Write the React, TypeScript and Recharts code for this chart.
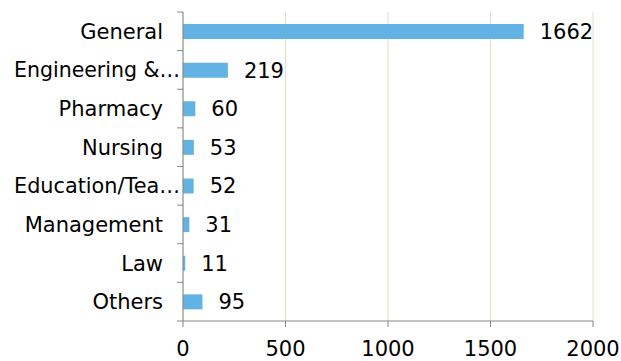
import React from 'react';
import { BarChart, Bar, XAxis, YAxis, CartesianGrid, LabelList } from 'recharts';

const categories = [
  'General',
  'Engineering & Technology',
  'Pharmacy',
  'Nursing',
  'Education/Teaching',
  'Management',
  'Law',
  'Others',
];
const counts = [1662, 219, 60, 53, 52, 31, 11, 95];
const xTicks = [0, 500, 1000, 1500, 2000];

const chartData = categories.map((name, i) => ({ name, value: counts[i] }));

const WIDTH = 621;
const HEIGHT = 361;
const MARGIN = { top: 12, right: 28, bottom: 0, left: 0 };
const X_AXIS_HEIGHT = 40;
const plotHeight = HEIGHT - MARGIN.top - MARGIN.bottom - X_AXIS_HEIGHT;
const band = plotHeight / categories.length;

const AXIS_COLOR = '#868686';
const FONT = '"DejaVu Sans", Verdana, sans-serif';

const MAX_LEN = 14;

// category tick: label + tick marks on band boundaries
const CategoryTick = (props: any) => {
  const { x, y, payload, index } = props;
  const axisX = x + 20;
  const top = y - band / 2;
  const full: string = payload.value;
  const cut = full.length > MAX_LEN;
  // truncated names run almost up to the axis, like in the original
  const label = cut ? full.slice(0, 13) + '…' : full;
  return (
    <g>
      <line x1={axisX - 6} y1={top} x2={axisX} y2={top} stroke={AXIS_COLOR} />
      {index === categories.length - 1 && (
        <line x1={axisX - 6} y1={y + band / 2} x2={axisX} y2={y + band / 2} stroke={AXIS_COLOR} />
      )}
      <text
        x={cut ? x + 17 : x}
        y={y}
        dy="0.36em"
        textAnchor="end"
        fill="#000"
        fontSize={21}
        fontFamily={FONT}
        textLength={cut ? 166 : undefined}
        lengthAdjust="spacingAndGlyphs"
      >
        {label}
      </text>
    </g>
  );
};

const App: React.FC = () => {
  return (
    <div style={{ position: 'absolute', left: 0, top: 0, width: WIDTH, height: HEIGHT, background: '#fff' }}>
      <BarChart
        width={WIDTH}
        height={HEIGHT}
        data={chartData}
        layout="vertical"
        margin={MARGIN}
        barCategoryGap={0}
      >
        <CartesianGrid horizontal={false} stroke="#d7e4bd" />
        <XAxis
          type="number"
          domain={[0, 2000]}
          ticks={xTicks}
          height={X_AXIS_HEIGHT}
          stroke={AXIS_COLOR}
          tickSize={6}
          tickMargin={14}
          tick={{ fill: '#000', fontSize: 21, fontFamily: FONT }}
          interval={0}
        />
        <YAxis
          type="category"
          dataKey="name"
          width={183}
          stroke={AXIS_COLOR}
          tickLine={false}
          tickSize={6}
          tickMargin={14}
          interval={0}
          tick={<CategoryTick />}
        />
        <Bar dataKey="value" fill="#62b3e4" barSize={15} isAnimationActive={false}>
          <LabelList
            dataKey="value"
            position="right"
            offset={16}
            fill="#000"
            fontSize={21}
            fontFamily={FONT}
          />
        </Bar>
      </BarChart>
    </div>
  );
};

export default App;
